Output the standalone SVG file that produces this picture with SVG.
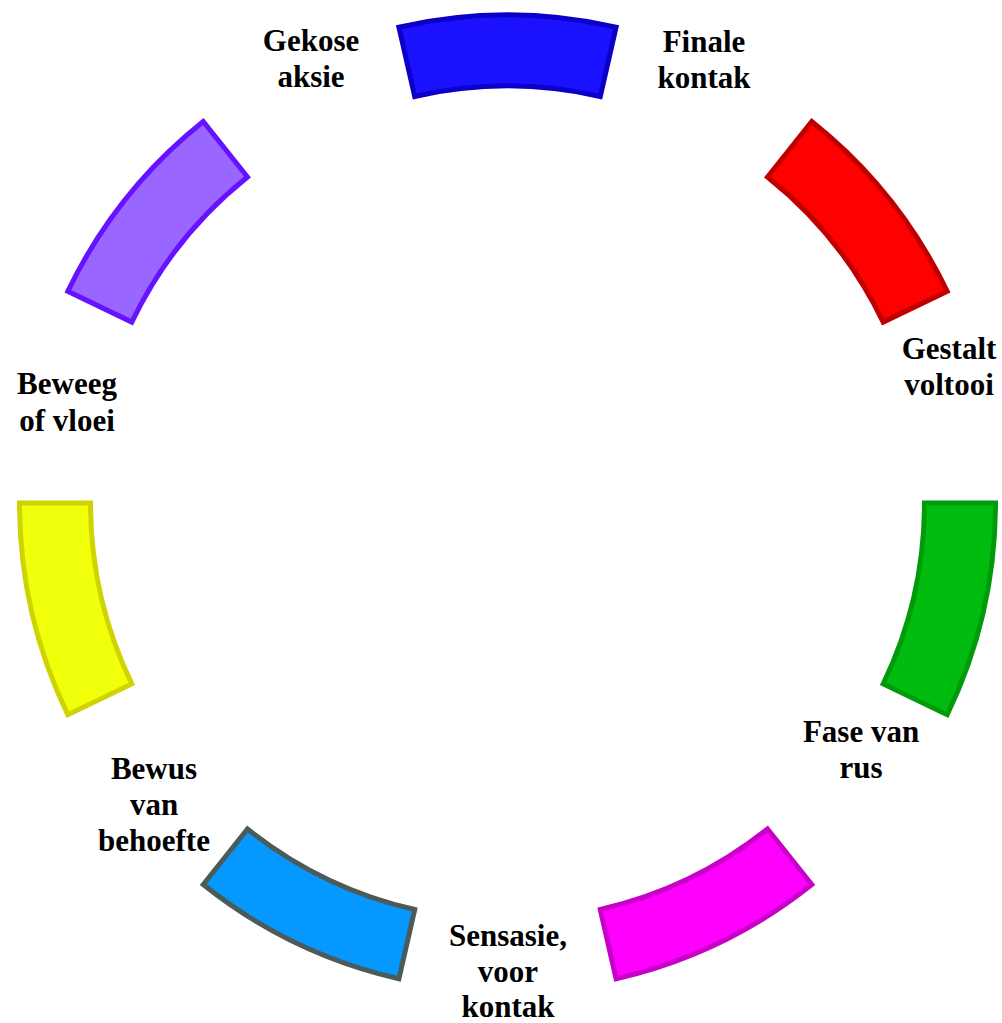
<svg xmlns="http://www.w3.org/2000/svg" width="1002" height="1023" viewBox="0 0 1002 1023">
<style>
.seg{stroke-width:5;stroke-linejoin:miter}
.lbl{font-family:"Liberation Serif","Times New Roman",serif;font-weight:bold;font-size:31px;fill:#000;text-anchor:middle}
</style>
<rect width="1002" height="1023" fill="#fff"/>
<g id="seg-blue"><path class="seg" fill="#1a12ff" stroke="#0c00c8" d="M398.91,27.23 A488,488 0 0 1 616.09,27.23 L600.29,96.45 A417,417 0 0 0 414.71,96.45 Z"/></g>
<g id="seg-red"><path class="seg" fill="#ff0000" stroke="#c00000" d="M811.76,121.47 A488,488 0 0 1 947.17,291.27 L883.2,322.07 A417,417 0 0 0 767.5,176.98 Z"/></g>
<g id="seg-green"><path class="seg" fill="#00bc0e" stroke="#009a0a" d="M995.5,503 A488,488 0 0 1 947.17,714.73 L883.2,683.93 A417,417 0 0 0 924.5,503 Z"/></g>
<g id="seg-magenta"><path class="seg" fill="#ff00ff" stroke="#c800c8" d="M811.76,884.53 A488,488 0 0 1 616.09,978.77 L600.29,909.55 A417,417 0 0 0 767.5,829.02 Z"/></g>
<g id="seg-skyblue"><path class="seg" fill="#0599ff" stroke="#4d5a5a" d="M398.91,978.77 A488,488 0 0 1 203.24,884.53 L247.5,829.02 A417,417 0 0 0 414.71,909.55 Z"/></g>
<g id="seg-yellow"><path class="seg" fill="#f0ff0a" stroke="#cfd400" d="M67.83,714.73 A488,488 0 0 1 19.5,503 L90.5,503 A417,417 0 0 0 131.8,683.93 Z"/></g>
<g id="seg-purple"><path class="seg" fill="#9966ff" stroke="#6611ff" d="M67.83,291.27 A488,488 0 0 1 203.24,121.47 L247.5,176.98 A417,417 0 0 0 131.8,322.07 Z"/></g>
<g id="lbl-gekose"><text class="lbl" x="311" y="51">Gekose</text><text class="lbl" x="311" y="87">aksie</text></g>
<g id="lbl-finale"><text class="lbl" x="704" y="52">Finale</text><text class="lbl" x="704" y="88">kontak</text></g>
<g id="lbl-gestalt"><text class="lbl" x="949" y="359">Gestalt</text><text class="lbl" x="949" y="395">voltooi</text></g>
<g id="lbl-fase"><text class="lbl" x="861" y="742">Fase van</text><text class="lbl" x="861" y="778">rus</text></g>
<g id="lbl-sensasie"><text class="lbl" x="508" y="946">Sensasie,</text><text class="lbl" x="508" y="982">voor</text><text class="lbl" x="508" y="1017">kontak</text></g>
<g id="lbl-bewus"><text class="lbl" x="154" y="779">Bewus</text><text class="lbl" x="154" y="815">van</text><text class="lbl" x="154" y="851">behoefte</text></g>
<g id="lbl-beweeg"><text class="lbl" x="67" y="394">Beweeg</text><text class="lbl" x="67" y="431">of vloei</text></g>
<g id="connectors"></g>
</svg>
